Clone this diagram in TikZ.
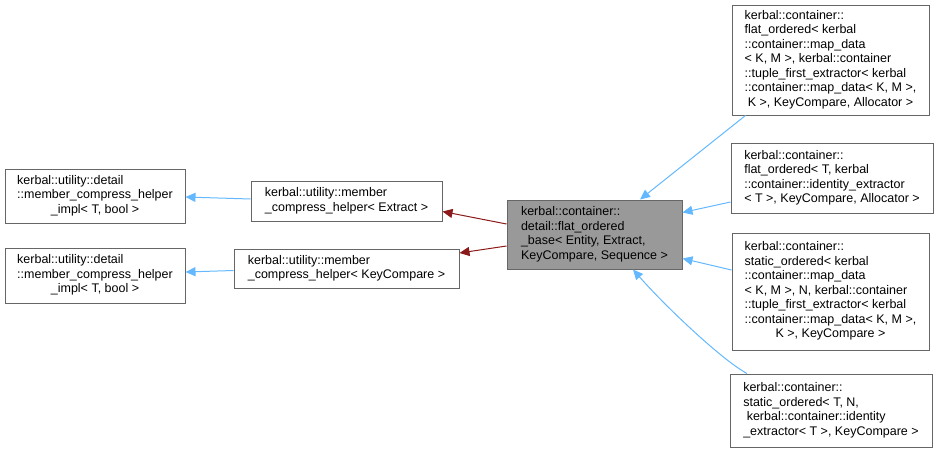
\documentclass[tikz,border=0pt]{standalone}
\usepackage{fontspec}
\setmainfont{Liberation Sans}
\usetikzlibrary{arrows.meta,calc}
\definecolor{edgeblue}{HTML}{63B8FF}
\definecolor{edgered}{HTML}{8B1A1A}
\definecolor{boxline}{HTML}{666666}
\definecolor{boxgray}{HTML}{999999}
\newcommand\cl[1]{\multicolumn{1}{@{}c@{}}{#1}}
\newcommand\lns[1]{\begin{tabular}{@{}l@{}}#1\end{tabular}}
\tikzset{
  cls/.style={draw=boxline, line width=1pt, fill=white, inner sep=0pt, align=left,
    font=\fontsize{12.5}{14.5}\selectfont},
  cur/.style={cls, fill=boxgray},
  inh/.style={draw=edgeblue, line width=1pt, -{Triangle[length=10,width=9]}},
  use/.style={draw=edgered, line width=1pt, -{Triangle[length=10,width=9]}}
}
\begin{document}
\begin{tikzpicture}[x=1pt,y=-1pt]
\useasboundingbox (0,0) rectangle (937,450);
\node[cls, minimum width=180, minimum height=54] (A1) at (95,196)
  {\lns{kerbal::utility::detail\\::member\_compress\_helper\\\cl{\_impl< T, bool >}}};
\node[cls, minimum width=180, minimum height=55] (A2) at (95,275.5)
  {\lns{kerbal::utility::detail\\::member\_compress\_helper\\\cl{\_impl< T, bool >}}};
\node[cls, minimum width=191, minimum height=40] (B1) at (346.5,201)
  {\lns{kerbal::utility::member\\\_compress\_helper< Extract >}};
\node[cls, minimum width=225, minimum height=39] (B2) at (346.5,268.5)
  {\lns{kerbal::utility::member\\\_compress\_helper< KeyCompare >}};
\node[cur, minimum width=175, minimum height=69] (C) at (594.5,234.5)
  {\lns{kerbal::container::\\detail::flat\_ordered\\\_base< Entity, Extract,\\\cl{KeyCompare, Sequence >}}};
\node[cls, minimum width=197, minimum height=110] (D1) at (830.5,60)
  {\lns{kerbal::container::\\flat\_ordered< kerbal\\::container::map\_data\\< K, M >, kerbal::container\\::tuple\_first\_extractor< kerbal\\::container::map\_data< K, M >,\\\cl{K >, KeyCompare, Allocator >}}};
\node[cls, minimum width=202, minimum height=70] (D2) at (832,178)
  {\lns{kerbal::container::\\flat\_ordered< T, kerbal\\::container::identity\_extractor\\< T >, KeyCompare, Allocator >}};
\node[cls, minimum width=197, minimum height=117] (D3) at (830.5,291.5)
  {\lns{kerbal::container::\\static\_ordered< kerbal\\::container::map\_data\\< K, M >, N, kerbal::container\\::tuple\_first\_extractor< kerbal\\::container::map\_data< K, M >,\\\cl{K >, KeyCompare >}}};
\node[cls, minimum width=202, minimum height=73] (D4) at (831,410.5)
  {\lns{kerbal::container::\\static\_ordered< T, N,\\\ kerbal::container::identity\\\_extractor< T >, KeyCompare >}};
% edges
\draw[use] (C.west |- 0,224) -- (B1.east |- 0,211.5);
\draw[use] (C.west |- 0,246) -- (B2.east |- 0,253);
\draw[inh] (B1.west |- 0,199) -- (A1.east |- 0,197);
\draw[inh] (B2.west |- 0,270.5) -- (A2.east |- 0,272);
\draw[inh] ($(D1.south)+(-85,0)$) -- ($(C.north)+(45.5,0)$);
\draw[inh] (D2.west |- 0,202) -- (C.east |- 0,212.5);
\draw[inh] (D3.west |- 0,270) -- (C.east |- 0,258.5);
\draw[inh] ($(D4.north)+(-84,0)$) .. controls (722,360) and (666,307) .. ($(C.south)+(38.5,0)$);
\end{tikzpicture}
\end{document}
